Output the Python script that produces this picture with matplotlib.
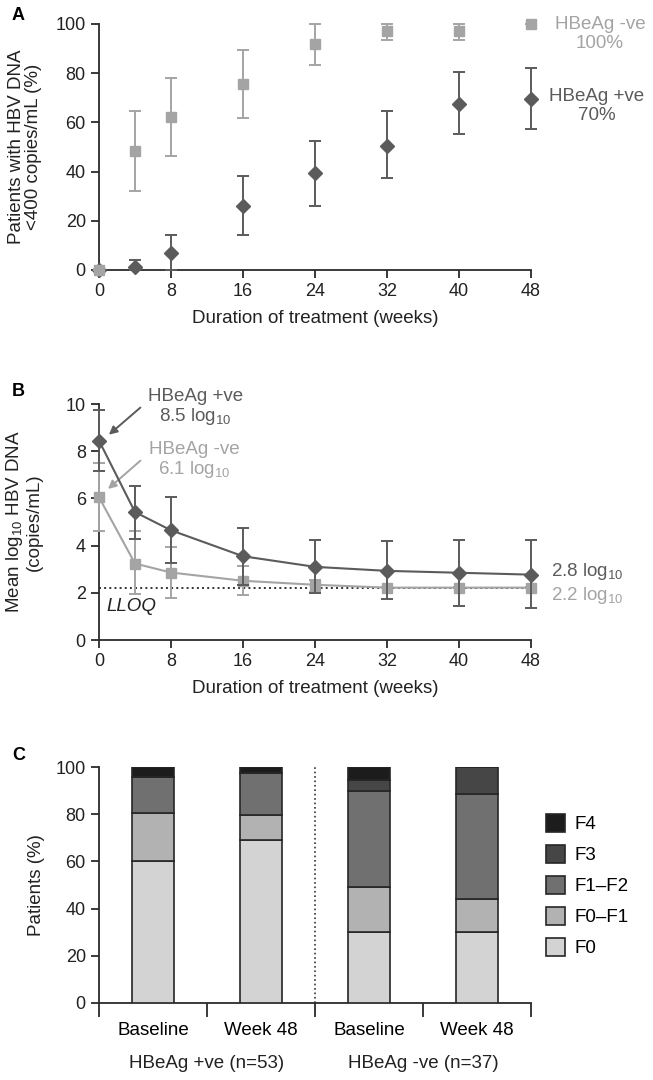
import numpy as np
import matplotlib
matplotlib.use("Agg")
import matplotlib.pyplot as plt

plt.rcParams['font.family'] = ['Liberation Sans', 'DejaVu Sans']
plt.rcParams['mathtext.fontset'] = 'custom'
plt.rcParams['mathtext.rm'] = 'Liberation Sans'
plt.rcParams['mathtext.it'] = 'Liberation Sans:italic'
plt.rcParams['mathtext.default'] = 'regular'

DARK = '#5b5b5b'
LIGHT = '#a4a4a4'
AXC = '#2b2b2b'
FS = 13      # tick labels
LFS = 13.5   # axis labels / annotations

# ---- Panel A: % patients with HBV DNA < 400 copies/mL
weeks_a = [0, 4, 8, 16, 24, 32, 40, 48]
pos_a = [0, 1.4, 7.0, 26.0, 39.3, 50.5, 67.6, 69.5]
pos_a_lo = [0, 0, 0, 14.2, 26.0, 37.3, 55.3, 57.2]
pos_a_hi = [0, 4.2, 14.4, 38.1, 52.6, 64.5, 80.5, 82.2]
neg_a = [0, 48.4, 62.1, 75.6, 91.9, 97.3, 97.3, 100]
neg_a_lo = [0, 32.2, 46.3, 61.9, 83.3, 93.4, 93.4, 100]
neg_a_hi = [0, 64.8, 78.0, 89.4, 100, 100, 100, 100]

# ---- Panel B: mean log10 HBV DNA
weeks_b = [0, 4, 8, 16, 24, 32, 40, 48]
pos_b = [8.45, 5.42, 4.65, 3.55, 3.10, 2.93, 2.85, 2.77]
pos_b_lo = [7.15, 4.30, 3.25, 2.35, 2.00, 1.73, 1.45, 1.34]
pos_b_hi = [9.73, 6.52, 6.05, 4.75, 4.23, 4.19, 4.23, 4.23]
neg_b = [6.05, 3.24, 2.86, 2.51, 2.34, 2.22, 2.22, 2.22]
neg_b_lo = [4.60, 1.97, 1.80, 1.90, 2.05, 2.20, 2.20, 2.20]
neg_b_hi = [7.50, 4.63, 3.95, 3.15, 2.54, 2.25, 2.25, 2.25]
lloq = 2.2

# ---- Panel C: fibrosis stage distribution
bar_labels = ['Baseline', 'Week 48', 'Baseline', 'Week 48']
group_labels = ['HBeAg +ve (n=53)', 'HBeAg -ve (n=37)']
stages = ['F0', 'F0\u2013F1', 'F1\u2013F2', 'F3', 'F4']
stage_vals = {
    'F0': [60, 69, 30, 30],
    'F0\u2013F1': [20.4, 10.8, 19, 14.2],
    'F1\u2013F2': [15.4, 17.7, 40.9, 44.4],
    'F3': [0, 0, 4.7, 11.4],
    'F4': [4.2, 2.5, 5.4, 0],
}
stage_colors = ['#d3d3d3', '#b2b2b2', '#707070', '#464646', '#1c1c1c']

fig = plt.figure(figsize=(6.53, 10.8), dpi=100)
axA = fig.add_axes([0.1516, 0.750, 0.6616, 0.2278])
axB = fig.add_axes([0.1516, 0.4074, 0.6616, 0.2185])
axC = fig.add_axes([0.1516, 0.0713, 0.6616, 0.2185])


def style(ax):
    for s in ['top', 'right']:
        ax.spines[s].set_visible(False)
    for s in ['left', 'bottom']:
        ax.spines[s].set_color(AXC)
        ax.spines[s].set_linewidth(1.3)
    ax.tick_params(colors=AXC, width=1.3, length=6, labelsize=FS, labelcolor='#222222')


# Panel A
style(axA)
y = np.array(pos_a)
axA.errorbar(weeks_a, pos_a, yerr=[y - np.array(pos_a_lo), np.array(pos_a_hi) - y],
             fmt='D', color=DARK, ms=7, capsize=4, elinewidth=1.4, capthick=1.4, clip_on=False, zorder=3)
y = np.array(neg_a)
axA.errorbar(weeks_a, neg_a, yerr=[y - np.array(neg_a_lo), np.array(neg_a_hi) - y],
             fmt='s', color=LIGHT, ms=6.5, capsize=4, elinewidth=1.4, capthick=1.4, clip_on=False, zorder=4)
axA.set_xlim(0, 48)
axA.set_ylim(0, 100)
axA.set_xticks(range(0, 49, 8))
axA.set_yticks(range(0, 101, 20))
axA.set_xlabel('Duration of treatment (weeks)', fontsize=LFS, color='#222222', labelpad=7)
axA.set_ylabel('Patients with HBV DNA\n<400 copies/mL (%)', fontsize=LFS, color='#222222', linespacing=1.05)
axA.yaxis.set_label_coords(-0.131, 0.5)
fig.text(600 / 653, 1 - 34 / 1080, 'HBeAg -ve\n100%', ha='center', va='center',
         fontsize=LFS, color=LIGHT, linespacing=1.15)
fig.text(597 / 653, 1 - 106 / 1080, 'HBeAg +ve\n70%', ha='center', va='center',
         fontsize=LFS, color=DARK, linespacing=1.15)
fig.text(12 / 653, 1 - 16 / 1080, 'A', fontsize=FS, fontweight='bold', va='center')

# Panel B
style(axB)
y = np.array(neg_b)
axB.errorbar(weeks_b, neg_b, yerr=[y - np.array(neg_b_lo), np.array(neg_b_hi) - y],
             fmt='-s', color=LIGHT, ms=6.5, lw=1.5, capsize=4, elinewidth=1.4, capthick=1.4, clip_on=False, zorder=3)
y = np.array(pos_b)
axB.errorbar(weeks_b, pos_b, yerr=[y - np.array(pos_b_lo), np.array(pos_b_hi) - y],
             fmt='-D', color=DARK, ms=7, lw=1.5, capsize=4, elinewidth=1.4, capthick=1.4, clip_on=False, zorder=4)
axB.axhline(lloq, color='#333333', ls=':', lw=1.4, zorder=2)
axB.set_xlim(0, 48)
axB.set_ylim(0, 10)
axB.set_xticks(range(0, 49, 8))
axB.set_yticks(range(0, 11, 2))
axB.set_xlabel('Duration of treatment (weeks)', fontsize=LFS, color='#222222', labelpad=7)
axB.set_ylabel('Mean log$_{10}$ HBV DNA\n(copies/mL)', fontsize=LFS, color='#222222', linespacing=1.05)
axB.yaxis.set_label_coords(-0.131, 0.5)
axB.text(0.8, 1.4, 'LLOQ', fontsize=LFS, style='italic', color='#222222', va='center')
axB.annotate('', xy=(1.1, 8.7), xytext=(4.6, 9.85),
             arrowprops=dict(arrowstyle='-|>', color=DARK, lw=1.4, mutation_scale=12, shrinkA=0, shrinkB=0))
axB.annotate('', xy=(1.0, 6.4), xytext=(4.6, 7.6),
             arrowprops=dict(arrowstyle='-|>', color=LIGHT, lw=1.4, mutation_scale=12, shrinkA=0, shrinkB=0))
axB.text(10.7, 9.85, 'HBeAg +ve\n8.5 log$_{10}$', ha='center', va='center', fontsize=LFS, color=DARK, linespacing=1.1)
axB.text(10.6, 7.6, 'HBeAg -ve\n6.1 log$_{10}$', ha='center', va='center', fontsize=LFS, color=LIGHT, linespacing=1.1)
axB.text(50.2, 2.9, '2.8 log$_{10}$', va='center', fontsize=LFS, color=DARK, clip_on=False)
axB.text(50.2, 1.9, '2.2 log$_{10}$', va='center', fontsize=LFS, color=LIGHT, clip_on=False)
fig.text(12 / 653, 1 - 392 / 1080, 'B', fontsize=FS, fontweight='bold', va='center')

# Panel C
style(axC)
xpos = np.arange(len(bar_labels)) + 0.5
bottom = np.zeros(len(bar_labels))
handles = []
for st, col in zip(stages, stage_colors):
    vals = np.array(stage_vals[st])
    h = axC.bar(xpos, vals, 0.39, bottom=bottom, color=col, edgecolor='#262626', linewidth=1.2, label=st, zorder=3)
    handles.append(h)
    bottom += vals
axC.plot([2, 2], [0, 100], ls=':', color='#333333', lw=1.2)
axC.set_xlim(0, 4)
axC.set_ylim(0, 100)
axC.set_yticks(range(0, 101, 20))
axC.set_xticks(range(0, 5))
axC.set_xticklabels([])
axC.tick_params(axis='x', length=10)
axC.set_xticks(xpos, minor=True)
axC.set_xticklabels(bar_labels, minor=True)
axC.tick_params(axis='x', which='minor', length=0, pad=14, labelsize=LFS)
axC.set_ylabel('Patients (%)', fontsize=LFS, color='#222222')
axC.yaxis.set_label_coords(-0.125, 0.5)
for i, g in enumerate(group_labels):
    axC.text(1 + 2 * i, -0.255, g, transform=axC.get_xaxis_transform(), ha='center', va='center',
             fontsize=LFS, color='#222222')
leg = axC.legend(handles[::-1], stages[::-1], loc='upper left', bbox_to_anchor=(546 / 653, 1 - 814 / 1080),
                 bbox_transform=fig.transFigure, frameon=False, fontsize=LFS, handlelength=1.0,
                 handleheight=1.1, labelspacing=0.62, handletextpad=0.5, borderpad=0, borderaxespad=0)
fig.text(12 / 653, 1 - 755 / 1080, 'C', fontsize=FS, fontweight='bold', va='center')

fig.savefig('out.png', dpi=100)
